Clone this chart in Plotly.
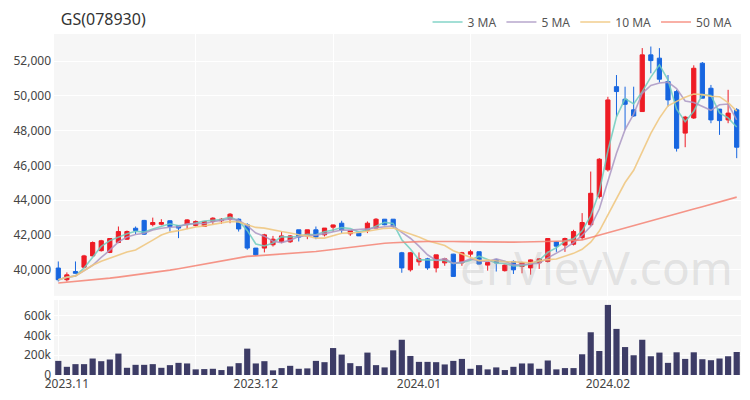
import pandas as pd
import plotly.graph_objects as go

# ---------------- data ----------------
HOLIDAYS = ["2023-12-25", "2023-12-29", "2024-01-01", "2024-02-09", "2024-02-12"]
DATES = [d for d in pd.bdate_range("2023-10-31", "2024-02-26") if d.strftime("%Y-%m-%d") not in HOLIDAYS]

OPEN = [40100, 39430, 39900, 40150, 40800, 41100, 41000, 41570, 41760, 42390,
        42840, 42600, 42620, 42820, 42550, 42600, 42550, 42490, 42780, 42820,
        42910, 42910, 42590, 41250, 41250, 41440, 41610, 41610, 42300, 41950,
        42300, 42010, 42450, 42680, 42070, 42110, 42260, 42400, 42910, 42910,
        40980, 40000, 40460, 40630, 40110, 40400, 40900, 40400, 40900, 41040,
        40270, 40570, 39950, 40480, 40190, 40110, 40400, 40480, 41600, 41420,
        41470, 41850, 42590, 44210, 45750, 50530, 49810, 49200, 49100, 52360,
        52170, 50830, 50250, 47860, 48730, 51880, 50440, 49240, 48620, 49200]
HIGH = [40480, 39850, 40480, 40860, 41630, 41720, 41820, 42490, 42260, 42490,
        42870, 43000, 42910, 42840, 42570, 42910, 42840, 42800, 43020, 42970,
        43260, 42950, 42680, 41250, 42070, 41950, 42200, 42000, 42300, 42300,
        42490, 42400, 42600, 42820, 42260, 42110, 42780, 42970, 42910, 42910,
        41030, 41030, 41000, 40690, 40860, 40690, 40920, 41030, 41150, 41040,
        40420, 40600, 40300, 40540, 40460, 40600, 40650, 41800, 41650, 41850,
        42300, 43260, 45650, 46420, 49950, 51200, 50530, 50530, 52750, 52840,
        52750, 51200, 50350, 48850, 51760, 51950, 50630, 49240, 50350, 49300]
LOW = [39330, 39330, 39780, 40100, 40770, 41050, 40960, 41530, 41720, 42050,
       42010, 42500, 42560, 42200, 41820, 42340, 42490, 42480, 42590, 42640,
       42680, 42200, 41150, 40800, 41000, 41340, 41530, 41550, 41630, 41760,
       41760, 41920, 42200, 42100, 41950, 41950, 42110, 42400, 42560, 42400,
       39830, 39900, 40240, 40000, 39850, 40230, 39600, 40230, 40720, 40300,
       39950, 39900, 39900, 39760, 39800, 39720, 40050, 40420, 41030, 41030,
       41400, 41720, 42500, 44100, 45650, 48810, 48050, 48800, 49100, 51300,
       50770, 49390, 46800, 47050, 48680, 49870, 48430, 47760, 48430, 46420]
CLOSE = [39430, 39710, 39800, 40800, 41570, 41670, 41800, 42200, 42200, 42260,
         42050, 42720, 42720, 42490, 42400, 42870, 42780, 42780, 42970, 42910,
         43200, 42350, 41250, 40860, 42010, 41760, 41950, 41950, 41880, 42300,
         41880, 42400, 42580, 42300, 42260, 41950, 42680, 42910, 42590, 42490,
         40110, 40980, 40630, 40110, 40860, 40630, 39620, 40980, 41040, 40330,
         40420, 40400, 40270, 40000, 40420, 40570, 40630, 41800, 41360, 41800,
         42200, 42720, 44400, 46360, 49770, 50250, 49520, 48850, 52360, 52030,
         50960, 49770, 46990, 48780, 51590, 49870, 48620, 48580, 49010, 47050]
VOLUME = [143000, 83000, 110000, 110000, 167000, 140000, 157000, 217000, 73000, 103000,
          103000, 110000, 73000, 100000, 123000, 117000, 57000, 60000, 63000, 50000,
          87000, 120000, 267000, 117000, 140000, 47000, 70000, 93000, 63000, 67000,
          143000, 130000, 273000, 207000, 120000, 90000, 227000, 100000, 77000, 250000,
          357000, 193000, 133000, 133000, 130000, 107000, 143000, 163000, 63000, 100000,
          57000, 77000, 50000, 83000, 117000, 117000, 63000, 147000, 57000, 70000,
          70000, 210000, 433000, 243000, 710000, 467000, 283000, 200000, 357000, 190000,
          227000, 123000, 230000, 163000, 230000, 160000, 150000, 167000, 190000, 233000]
MA50 = [39240, 39280, 39320, 39360, 39400, 39460, 39520, 39580, 39640, 39700,
        39770, 39840, 39910, 39980, 40060, 40150, 40240, 40330, 40420, 40510,
        40610, 40690, 40770, 40800, 40830, 40860, 40900, 40940, 40980, 41010,
        41050, 41110, 41170, 41230, 41300, 41380, 41440, 41490, 41530, 41560,
        41590, 41610, 41620, 41630, 41640, 41640, 41630, 41620, 41610, 41600,
        41600, 41590, 41590, 41590, 41600, 41600, 41610, 41620, 41640, 41660,
        41690, 41720, 41860, 42000, 42130, 42270, 42410, 42540, 42680, 42820,
        42950, 43090, 43230, 43360, 43500, 43630, 43770, 43910, 44040, 44180]

TITLE = "GS(078930)"
PRICE_TICKS = [40000, 42000, 44000, 46000, 48000, 50000, 52000]
VOL_TICKS = [0, 200000, 400000, 600000]
VOL_TICKTEXT = ["0", "200k", "400k", "600k"]

# ---------------- derived ----------------
assert len(DATES) == len(CLOSE) == 80
X = list(range(len(DATES)))
close_s = pd.Series(CLOSE)
MA3 = close_s.rolling(3, min_periods=1).mean().tolist()
MA5 = close_s.rolling(5, min_periods=1).mean().tolist()
MA10 = close_s.rolling(10, min_periods=1).mean().tolist()

month_idx, month_txt = [], []
for i, d in enumerate(DATES):
    if i > 0 and d.month != DATES[i - 1].month:
        month_idx.append(i)
        month_txt.append(d.strftime("%Y.%m"))

RED = "#ee1c25"
BLUE = "#1766e0"
FONT = "Noto Sans"

fig = go.Figure()
fig.add_trace(go.Candlestick(
    x=X, open=OPEN, high=HIGH, low=LOW, close=CLOSE,
    increasing=dict(line=dict(color=RED, width=1), fillcolor=RED),
    decreasing=dict(line=dict(color=BLUE, width=1), fillcolor=BLUE),
    whiskerwidth=0, showlegend=False, xaxis="x", yaxis="y",
    text=[d.strftime("%Y-%m-%d") for d in DATES],
))
for name, vals, col in [("3 MA", MA3, "rgba(110,205,190,0.85)"),
                        ("5 MA", MA5, "rgba(170,150,195,0.85)"),
                        ("10 MA", MA10, "rgba(240,200,130,0.9)"),
                        ("50 MA", MA50, "rgba(245,130,115,0.85)")]:
    fig.add_trace(go.Scatter(x=X, y=vals, mode="lines", name=name,
                             line=dict(color=col, width=1.6),
                             xaxis="x", yaxis="y", hoverinfo="skip"))
fig.add_trace(go.Bar(x=X, y=VOLUME, marker=dict(color="#3d3c66", line=dict(width=0)),
                     width=0.72, showlegend=False, xaxis="x2", yaxis="y2"))

xcommon = dict(range=[-0.5, len(X) - 0.5], showgrid=False, zeroline=False,
               showline=False, ticks="", automargin=False,
               minor=dict(showgrid=True, gridcolor="#ffffff", gridwidth=1, tick0=0, dtick=16))
yfont = dict(family=FONT, size=12, color="#444")
fig.update_layout(
    width=750, height=400,
    margin=dict(l=54, r=9, t=34, b=25, autoexpand=False),
    paper_bgcolor="#ffffff", plot_bgcolor="#f6f6f6",
    font=dict(family=FONT, size=12, color="#444"),
    title=dict(text=TITLE, x=0.081, xanchor="left", xref="container",
               y=0.952, yanchor="middle", pad=dict(l=0, r=0, t=0, b=0),
               font=dict(family=FONT, size=16, color="#333")),
    showlegend=True,
    legend=dict(orientation="h", x=0.995, xanchor="right", y=1.035, yanchor="middle",
                font=dict(family=FONT, size=12, color="#555"), bgcolor="rgba(0,0,0,0)",
                itemwidth=30, tracegroupgap=0),
    xaxis=dict(domain=[0, 1], anchor="y", showticklabels=False, rangeslider=dict(visible=False), **xcommon),
    xaxis2=dict(domain=[0, 1], anchor="y2", matches="x", tickmode="array",
                tickvals=month_idx, ticktext=month_txt,
                tickfont=yfont, **xcommon),
    yaxis=dict(domain=[0.232, 1], range=[38500, 53560], tickvals=PRICE_TICKS, tickformat=",",
               gridcolor="#ffffff", gridwidth=1, zeroline=False, ticks="", automargin=False,
               ticklabelstandoff=2, tickfont=yfont),
    yaxis2=dict(domain=[0, 0.22], range=[0, 760000], tickvals=VOL_TICKS, ticktext=VOL_TICKTEXT,
                gridcolor="#ffffff", gridwidth=1, zeroline=False, ticks="", automargin=False,
                ticklabelstandoff=2, tickfont=yfont),
    bargap=0.2, hovermode="x",
    annotations=[dict(text="enVievV.com", xref="paper", yref="paper", x=0.79, y=0.318,
                      xanchor="center", yanchor="middle", showarrow=False,
                      font=dict(family=FONT, size=46, color="rgba(175,175,175,0.3)"))],
)
fig.write_html("out.html", config={"displayModeBar": False},
               post_script="document.body.style.margin='0';")
